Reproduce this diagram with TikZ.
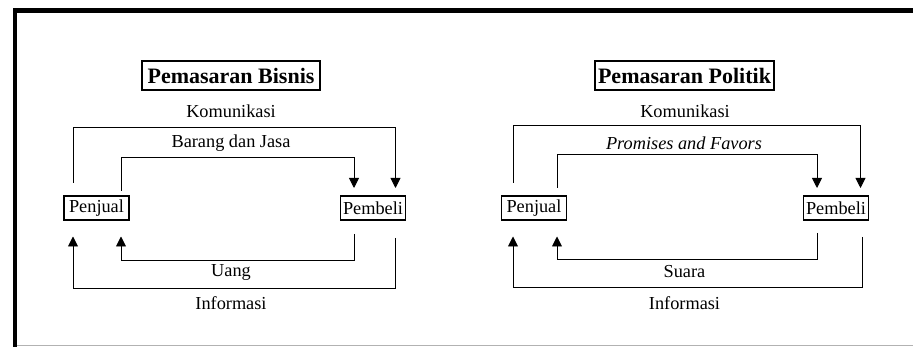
\documentclass[tikz,border=0pt]{standalone}
\usepackage{fontspec}
\setmainfont{Liberation Serif}
\usetikzlibrary{arrows.meta}
\begin{document}
\begin{tikzpicture}[x=1pt,y=-1pt,
  conn/.style={line width=0.9pt},
  arr/.style={conn,-{Triangle[width=10pt,length=10pt]}},
  titlebox/.style={draw,line width=1.8pt,inner sep=2pt,minimum height=29pt,font=\fontsize{22}{25}\selectfont\bfseries},
  actor/.style={draw,line width=1.8pt,inner sep=1.5pt,minimum height=24pt,minimum width=65pt,font=\fontsize{18.3}{21}\selectfont},
  lbl/.style={font=\fontsize{18.3}{21}\selectfont,inner sep=0pt}]
\useasboundingbox (0,0) rectangle (913,347);
% frame
\draw[line width=4.6pt] (15,347) -- (15,10.8) -- (913,10.8);
\draw[gray!60,line width=1pt] (17,345.8) -- (913,345.8);
% ---------- left diagram ----------
\node[titlebox,minimum width=178pt] (t1) at (231,75.5) {Pemasaran Bisnis};
\node[actor] (p1) at (96.5,208) {Penjual};
\node[actor] (b1) at (373,208) {Pembeli};
\coordinate (p1o) at (73,0);
\coordinate (p1i) at (121,0);
\coordinate (b1i) at (354,0);
\coordinate (b1o) at (395.5,0);
\node[lbl] (k1) at (231,111) {Komunikasi};
\node[lbl] (g1) at (231,143) {Barang dan Jasa};
\node[lbl] (u1) at (231,272.5) {Uang};
\node[lbl] (i1) at (231,303.5) {Informasi};
\draw[arr] (p1o |- 0,183) -- (p1o |- 0,127) -- (b1o |- 0,127) -- (b1o |- 0,188);
\draw[arr] (p1i |- 0,191) -- (p1i |- 0,157) -- (b1i |- 0,157) -- (b1i |- 0,188);
\draw[arr] (b1i |- 0,234) -- (b1i |- 0,260) -- (p1i |- 0,260) -- (p1i |- 0,236.5);
\draw[arr] (b1o |- 0,238) -- (b1o |- 0,288) -- (p1o |- 0,288) -- (p1o |- 0,236.5);
% ---------- right diagram ----------
\node[titlebox,minimum width=179pt] (t2) at (684.5,75.5) {Pemasaran Politik};
\node[actor] (p2) at (534,208) {Penjual};
\node[actor] (b2) at (836,208) {Pembeli};
\coordinate (p2o) at (513,0);
\coordinate (p2i) at (557,0);
\coordinate (b2i) at (817,0);
\coordinate (b2o) at (860.5,0);
\node[lbl] (k2) at (685,111) {Komunikasi};
\node[lbl] (g2) at (684,143) {\itshape Promises and Favors};
\node[lbl] (u2) at (684.5,272) {Suara};
\node[lbl] (i2) at (684.5,303) {Informasi};
\draw[arr] (p2o |- 0,183) -- (p2o |- 0,125) -- (b2o |- 0,125) -- (b2o |- 0,188);
\draw[arr] (p2i |- 0,188) -- (p2i |- 0,154) -- (b2i |- 0,154) -- (b2i |- 0,188);
\draw[arr] (b2i |- 0,233) -- (b2i |- 0,259) -- (p2i |- 0,259) -- (p2i |- 0,236.5);
\draw[arr] (862,237) -- (862,287) -- (p2o |- 0,287) -- (p2o |- 0,236.5);
\end{tikzpicture}
\end{document}
